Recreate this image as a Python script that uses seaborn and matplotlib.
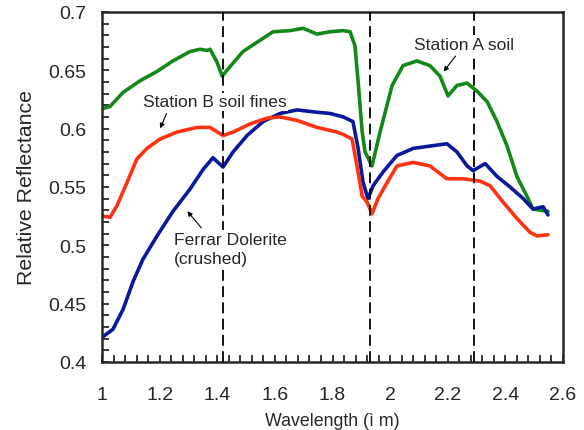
import pandas as pd
import numpy as np
import seaborn as sns
import matplotlib
matplotlib.use("Agg")
import matplotlib.pyplot as plt
from matplotlib.ticker import MultipleLocator

# values
green_x = [1.0, 1.028, 1.073, 1.132, 1.191, 1.246, 1.305, 1.34, 1.364, 1.375, 1.399, 1.417,
           1.444, 1.489, 1.538, 1.594, 1.653, 1.698, 1.746, 1.791, 1.837, 1.861, 1.878, 1.889,
           1.903, 1.913, 1.937, 1.965, 2.007, 2.045, 2.093, 2.138, 2.173, 2.201, 2.232, 2.267,
           2.302, 2.337, 2.371, 2.406, 2.44, 2.475, 2.496, 2.548]
green_y = [0.617, 0.619, 0.631, 0.641, 0.649, 0.658, 0.666, 0.668, 0.667, 0.668, 0.657, 0.645,
           0.653, 0.666, 0.674, 0.683, 0.684, 0.686, 0.681, 0.683, 0.684, 0.683, 0.671, 0.640,
           0.597, 0.580, 0.568, 0.597, 0.637, 0.654, 0.658, 0.654, 0.645, 0.628, 0.637, 0.639,
           0.632, 0.623, 0.606, 0.585, 0.559, 0.542, 0.531, 0.529]

blue_x = [1.0, 1.038, 1.073, 1.108, 1.142, 1.191, 1.246, 1.305, 1.351, 1.368, 1.385, 1.42,
          1.455, 1.503, 1.559, 1.618, 1.677, 1.746, 1.791, 1.837, 1.871, 1.889, 1.906, 1.923,
          1.941, 1.976, 2.024, 2.08, 2.138, 2.197, 2.232, 2.267, 2.288, 2.33, 2.371, 2.416,
          2.462, 2.496, 2.531, 2.548]
blue_y = [0.421, 0.428, 0.445, 0.469, 0.488, 0.508, 0.529, 0.548, 0.565, 0.570, 0.575, 0.567,
          0.580, 0.594, 0.606, 0.613, 0.616, 0.614, 0.613, 0.610, 0.606, 0.583, 0.554, 0.540,
          0.551, 0.563, 0.577, 0.583, 0.585, 0.587, 0.580, 0.568, 0.564, 0.570, 0.559, 0.550,
          0.540, 0.531, 0.533, 0.526]

red_x = [1.0, 1.028, 1.052, 1.087, 1.121, 1.156, 1.201, 1.26, 1.33, 1.375, 1.42, 1.455,
         1.514, 1.573, 1.618, 1.677, 1.746, 1.816, 1.837, 1.868, 1.885, 1.903, 1.92, 1.937,
         1.958, 1.99, 2.024, 2.08, 2.138, 2.197, 2.253, 2.312, 2.347, 2.392, 2.44, 2.486,
         2.51, 2.548]
red_y = [0.525, 0.524, 0.534, 0.554, 0.574, 0.583, 0.591, 0.597, 0.601, 0.601, 0.594, 0.597,
         0.604, 0.609, 0.610, 0.607, 0.601, 0.597, 0.595, 0.591, 0.568, 0.542, 0.537, 0.527,
         0.540, 0.554, 0.568, 0.571, 0.568, 0.557, 0.557, 0.555, 0.551, 0.537, 0.523, 0.511,
         0.508, 0.509]

bands = [1.42, 1.93, 2.29]
xticks = [1, 1.2, 1.4, 1.6, 1.8, 2, 2.2, 2.4, 2.6]
yticks = [0.4, 0.45, 0.5, 0.55, 0.6, 0.65, 0.7]

df = pd.concat([
    pd.DataFrame({"wl": green_x, "refl": green_y, "sample": "Station A soil"}),
    pd.DataFrame({"wl": blue_x, "refl": blue_y, "sample": "Ferrar Dolerite"}),
    pd.DataFrame({"wl": red_x, "refl": red_y, "sample": "Station B soil fines"}),
])
colors = {"Station A soil": "#15881c", "Ferrar Dolerite": "#0a189c",
          "Station B soil fines": "#ff3212"}

sns.set_style("ticks")
plt.rcParams["font.family"] = ["Liberation Sans", "DejaVu Sans"]

fig = plt.figure(figsize=(5.84, 4.31), dpi=100)
ax = fig.add_axes([0.1747, 0.158, 0.7893, 0.812])

sns.lineplot(data=df, x="wl", y="refl", hue="sample", palette=colors,
             estimator=None, sort=False, linewidth=2.6, legend=False, ax=ax)

for b in bands:
    ax.axvline(b, color="black", linestyle=(0, (6, 3)), linewidth=1.3, zorder=3)

ax.set_xlim(1, 2.6)
ax.set_ylim(0.4, 0.7)
ax.set_xticks(xticks)
ax.set_xticklabels([f"{v:g}" for v in xticks])
ax.set_yticks(yticks)
ax.set_yticklabels([f"{v:g}" for v in yticks])
ax.xaxis.set_minor_locator(MultipleLocator(0.04))
ax.yaxis.set_minor_locator(MultipleLocator(0.01))
ax.tick_params(which="both", direction="in", length=5, width=1.3,
               top=False, right=False)
ax.tick_params(axis="x", labelsize=14, pad=17)
ax.tick_params(axis="y", labelsize=14, pad=11)
for s in ax.spines.values():
    s.set_linewidth(1.8)

ax.set_xlabel("Wavelength (ì m)", fontsize=12.8, labelpad=7)
ax.set_ylabel("Relative Reflectance", fontsize=15.3, labelpad=9)

box = dict(boxstyle="square,pad=0.1", fc="white", ec="none")
arrow = dict(arrowstyle="-|>", color="black", lw=0.8, mutation_scale=7)
ax.annotate("Station A soil", xy=(2.18, 0.647), xytext=(2.255, 0.672),
            fontsize=12.6, ha="center", va="center", bbox=box, zorder=5,
            arrowprops=dict(arrow, relpos=(0.45, 0)))
ax.annotate("Station B soil fines", xy=(1.198, 0.598), xytext=(1.39, 0.623),
            fontsize=12.6, ha="center", va="center", bbox=box, zorder=5,
            arrowprops=dict(arrow, relpos=(0.18, 0)))
ax.annotate("Ferrar Dolerite\n(crushed)", xy=(1.29, 0.531), xytext=(1.25, 0.497),
            fontsize=12.6, ha="left", va="center", linespacing=1.35, bbox=box, zorder=5,
            arrowprops=dict(arrow, relpos=(0.27, 1)))

fig.savefig("out.png", dpi=100)
